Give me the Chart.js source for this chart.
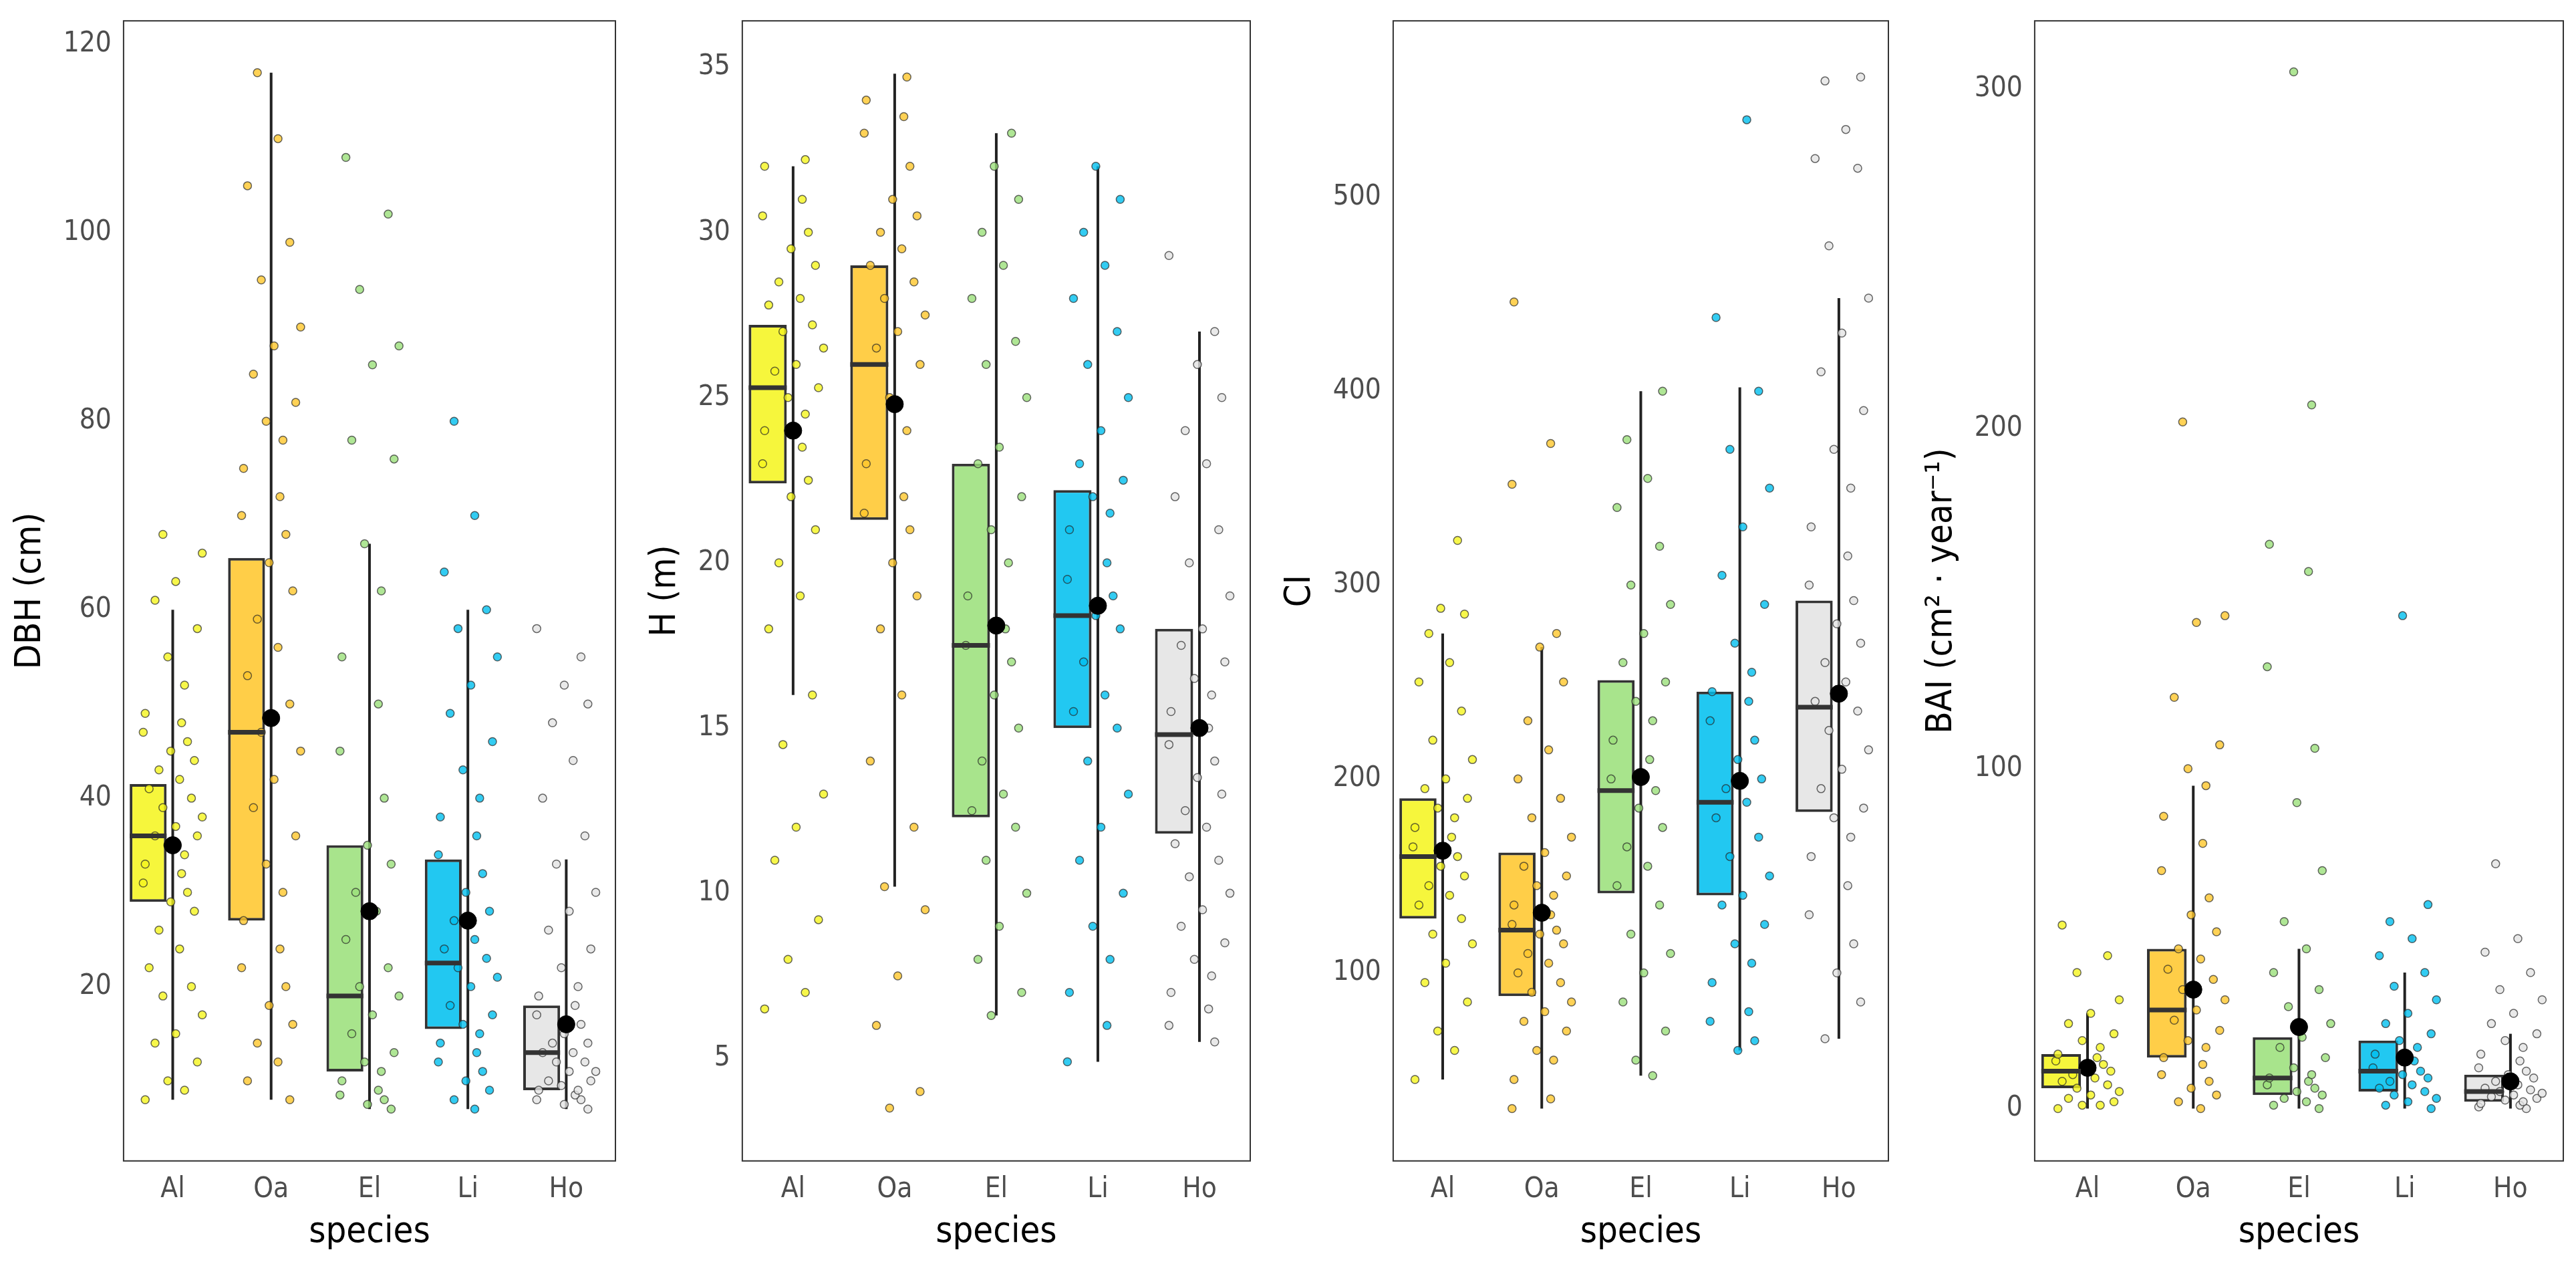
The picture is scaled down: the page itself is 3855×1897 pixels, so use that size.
<!DOCTYPE html>
<html><head><meta charset="utf-8">
<script src="https://cdn.jsdelivr.net/npm/chart.js@4"></script>
<style>
body{margin:0;background:#fff;width:3855px;height:1897px;overflow:hidden;position:relative}
.p{position:absolute;top:0;height:1897px}
</style></head><body>
<div class="p" style="left:0"><canvas id="c0" width="935" height="1890"></canvas></div>
<div class="p" style="left:950px"><canvas id="c1" width="935" height="1890"></canvas></div>
<div class="p" style="left:1900px"><canvas id="c2" width="940" height="1890"></canvas></div>
<div class="p" style="left:2860px"><canvas id="c3" width="990" height="1890"></canvas></div>
<script>
const species=['Al','Oa','El','Li','Ho'];
const colors=['#F5F51E','#FFC72C','#9BE07A','#00BFEF','#E3E3E3'];
// box stats per panel: [lowWhisker,q1,median,q3,highWhisker,mean]
const dbhStats=[[8,29,36,41.5,60,35],[8,27,47,65.5,117,48.5],[7,11,19,35,67,28],[7,15.5,22.5,33.5,60,27],[7,9,13,18,33.5,16]];
const hStats=[[16,22.4,25.3,27.2,32,24],[10.2,21.3,26,29,34.8,24.8],[6.3,12.3,17.5,23,33,18.1],[4.9,15,18.4,22.2,32,18.7],[5.5,11.8,14.8,18,27,15]];
const ciStats=[[45,128,160,190,275,163],[30,88,122,162,268,131],[47,141,194,251,400,201],[60,140,188,245,402,199],[66,183,237,292,448,244]];
const baiStats=[[0,6,11,16,28,12],[0,15,29,47,95,35],[0,4,9,21,47,24],[0,5,11,20,40,15],[0,2,5,10,22,8]];
const dbhPts=[
[8,9,10,12,14,15,17,19,20,22,24,26,28,29,30,31,32,33,34,35,36,36,37,38,39,40,41,42,43,44,45,46,47,48,49,52,55,58,61,63,66,68],
[8,10,12,14,16,18,20,22,24,27,30,33,36,39,42,45,47,50,53,56,59,62,65,68,70,72,75,78,80,82,85,88,90,95,99,105,110,117],
[7,7.5,8,8.5,9,10,11,12,13,15,17,19,20,22,25,28,30,33,35,40,45,50,55,62,67,76,78,86,88,94,102,108],
[7,8,9,10,11,12,13,14,15,16,17,18,20,21,22,23,24,25,27,28,30,32,34,36,38,40,43,46,49,52,55,58,60,64,70,80],
[7,7.5,8,8,8.5,9,9,9.5,10,10,11,11,12,12,13,13,14,14,15,16,17,18,19,20,22,24,26,28,30,33,36,40,44,48,50,52,55,58]];
const hPts=[
[6.5,7,8,9.2,11,12,13,14.5,16,18,19,20,21,22,22.5,23,23.5,24,24.5,25,25.3,25.8,26,26.5,27,27.2,27.8,28,28.5,29,29.5,30,30.5,31,32,32.2],
[3.5,4,6,7.5,9.5,10.2,12,14,16,18,19,20,21,21.5,22,23,24,25,26,26.5,27,27.5,28,28.5,29,29.5,30,30.5,31,32,33,33.5,34,34.7],
[6.3,7,8,9,10,11,12,12.5,13,14,15,16,17,17.5,18,19,20,21,22,23,23.5,25,26,26.7,28,29,30,31,32,33],
[4.9,6,7,8,9,10,11,12,13,14,15,15.5,16,17,18,18.4,19,19.5,20,21,21.5,22,22.5,23,24,25,26,27,28,29,30,31,32],
[5.5,6,6.5,7,7.5,8,8.5,9,9.5,10,10.5,11,11.5,12,12.5,13,13.5,14,14.5,15,15.5,16,16.5,17,17.5,18,19,20,21,22,23,24,25,26,27,29.3]];
const ciPts=[
[45,60,70,85,95,105,115,120,128,135,140,145,150,155,160,165,170,175,180,185,190,195,200,210,220,235,250,260,275,285,288,323],
[30,35,45,55,60,70,75,80,85,90,95,100,105,110,115,120,122,125,130,135,140,145,150,155,162,170,180,190,200,215,230,250,268,275,352,373,446],
[47,55,70,85,100,110,120,135,145,155,165,175,185,194,200,210,220,230,240,250,260,275,290,300,320,340,355,375,400],
[60,65,75,80,95,105,115,125,135,140,150,160,170,180,188,195,200,210,220,230,240,245,255,270,290,305,330,350,370,400,438,540],
[66,85,100,115,130,145,160,170,180,185,195,205,215,225,235,240,250,260,270,280,292,300,315,330,350,370,390,410,430,448,475,515,520,535,560,562]];
const baiPts=[
[0,1,1,2,3,4,5,6,7,8,9,10,11,12,13,14,15,16,18,20,22,25,28,32,40,45,54],
[0,2,4,6,8,10,13,15,18,20,23,26,29,32,35,38,41,44,47,52,57,62,70,78,86,95,100,107,121,143,145,202],
[0,1,2,3,4,5,6,7,8,9,10,12,15,18,21,25,30,35,40,47,55,70,90,106,130,158,166,207,305],
[0,1,2,3,4,5,6,7,8,9,10,11,12,14,16,18,20,22,25,28,32,36,40,45,50,55,60,145],
[0,0.5,1,1.5,2,2.5,3,3.5,4,4.5,5,5.5,6,7,8,9,10,11,12,14,16,18,20,22,25,28,32,35,40,46,50,72]];
const panels=[
 {id:'c0',title:'DBH (cm)',stats:dbhStats,pts:dbhPts,min:1.5,max:122.5,step:20,tmin:20},
 {id:'c1',title:'H (m)',stats:hStats,pts:hPts,min:1.9,max:36.4,step:5,tmin:5},
 {id:'c2',title:'CI',stats:ciStats,pts:ciPts,min:3,max:591,step:100,tmin:100},
 {id:'c3',title:'BAI (cm² · year⁻¹)',stats:baiStats,pts:baiPts,min:-15.4,max:320,step:100,tmin:0}];
const JIT=[-0.28,0.12,-0.05,0.25,-0.18,0.03,0.3,-0.1,0.19,-0.24,0.07,-0.14,0.22,-0.02,0.15,-0.3,0.09];
const FONT='"DejaVu Sans Condensed","DejaVu Sans",sans-serif';

const boxPlugin={id:'box',
 beforeDatasetsDraw(ch){const st=ch.options.plugins.box.stats,x=ch.scales.x,y=ch.scales.y,c=ch.ctx;
  c.save();c.strokeStyle='#222';c.lineWidth=4;
  st.forEach((s,i)=>{const px=x.getPixelForValue(i);c.beginPath();c.moveTo(px,y.getPixelForValue(s[0]));c.lineTo(px,y.getPixelForValue(s[4]));c.stroke();});
  c.restore();},
 afterDatasetsDraw(ch){const st=ch.options.plugins.box.stats,y=ch.scales.y,c=ch.ctx,a=ch.chartArea;
  c.save();c.strokeStyle='#333';c.lineWidth=7;
  const meta=ch.getDatasetMeta(0);
  st.forEach((s,i)=>{const b=meta.data[i];const hw=b.width/2;const py=y.getPixelForValue(s[2]);
   c.beginPath();c.moveTo(b.x-hw,py);c.lineTo(b.x+hw,py);c.stroke();});
  c.strokeStyle='#333';c.lineWidth=2;c.strokeRect(a.left,a.top,a.right-a.left,a.bottom-a.top);
  c.restore();}};

panels.forEach(p=>{
 const ptsData=[],ptsCol=[];let k=0;
 p.pts.forEach((arr,i)=>arr.forEach(v=>{ptsData.push({x:i+1+JIT[k%JIT.length],y:v});ptsCol.push(colors[i]);k++;}));
 const meanData=p.stats.map((s,i)=>({x:i+1,y:s[5]}));
 new Chart(document.getElementById(p.id),{
  data:{labels:species,datasets:[
   {type:'bar',data:p.stats.map(s=>[s[1],s[3]]),backgroundColor:colors.map(c=>c+'DD'),borderColor:'#333',borderWidth:4,borderSkipped:false,barPercentage:0.75,categoryPercentage:1,order:3},
   {type:'scatter',xAxisID:'xj',data:ptsData,backgroundColor:ptsCol.map(c=>c+'CC'),borderColor:'rgba(40,40,40,0.7)',borderWidth:1.5,pointRadius:6,order:2},
   {type:'scatter',xAxisID:'xj',data:meanData,backgroundColor:'#000',borderColor:'#000',pointRadius:13,order:1}]},
  options:{responsive:false,animation:false,devicePixelRatio:1,
   layout:{padding:{top:20,right:10,bottom:10,left:10}},
   plugins:{legend:{display:false},tooltip:{enabled:false},box:{stats:p.stats}},
   scales:{
    x:{type:'category',grid:{display:false,drawTicks:true,tickLength:12,color:'#333'},border:{display:false},
       ticks:{color:'#4d4d4d',font:{family:FONT,size:42},padding:6},
       title:{display:true,text:'species',color:'#000',font:{family:FONT,size:54},padding:{top:0}}},
    xj:{type:'linear',display:false,min:0.5,max:5.5},
    y:{min:p.min,max:p.max,afterBuildTicks:ax=>{const t=[];for(let v=p.tmin;v<=p.max;v+=p.step)t.push({value:v});ax.ticks=t;},
       grid:{display:false,drawTicks:true,tickLength:12,color:'#333'},border:{display:false},
       ticks:{color:'#4d4d4d',font:{family:FONT,size:42},padding:6},
       title:{display:true,text:p.title,color:'#000',font:{family:FONT,size:54},padding:{bottom:10}}}}},
  plugins:[boxPlugin]});
});
</script></body></html>
